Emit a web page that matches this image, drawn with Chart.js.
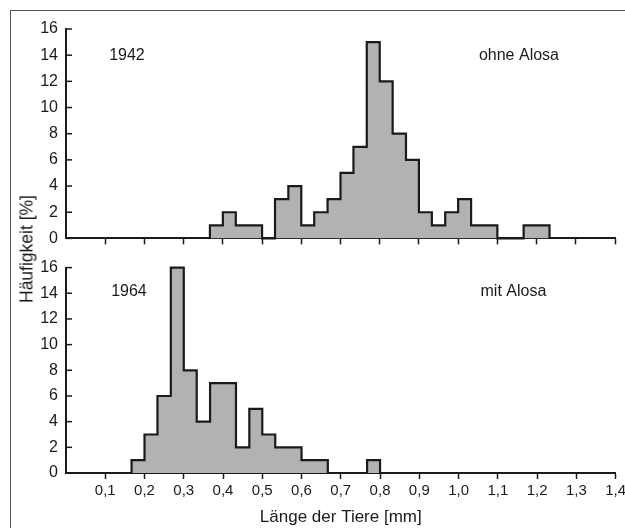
<!DOCTYPE html>
<html>
<head>
<meta charset="utf-8">
<script src="https://cdn.jsdelivr.net/npm/chart.js@4.4.1/dist/chart.umd.min.js"></script>
<style>
  body { margin: 0; background: #fff; }
  #wrap { position: relative; width: 625px; height: 528px; overflow: hidden;
          font-family: "Liberation Sans", Arial, sans-serif; color: #1a1a1a; }
  #frame { position: absolute; left: 10px; top: 10px; width: 700px; height: 600px;
           border-top: 1.5px solid #555; border-left: 1.5px solid #555; }
  #top { position: absolute; left: 0; top: 0; }
  #bottom { position: absolute; left: 0; top: 250px; }
  #ytitle { position: absolute; left: 27px; top: 249px; font-size: 17.5px; white-space: nowrap;
            transform: translate(-50%, -50%) rotate(-90deg); }
</style>
</head>
<body>
<div id="wrap">
  <div id="frame"></div>
  <canvas id="top" width="625" height="256"></canvas>
  <canvas id="bottom" width="629" height="278"></canvas>
  <div id="ytitle">Häufigkeit [%]</div>
</div>
<script>
// bin edges (mm) and frequency (%) per bin
const edges1942 = [0.367, 0.4, 0.433, 0.467, 0.5, 0.533, 0.567, 0.6, 0.633, 0.667, 0.7, 0.733, 0.767,
  0.8, 0.833, 0.867, 0.9, 0.933, 0.967, 1.0, 1.033, 1.067, 1.1, 1.133, 1.167, 1.2, 1.233];
const freq1942 = [1, 2, 1, 1, 0, 3, 4, 1, 2, 3, 5, 7, 15, 12, 8, 6, 2, 1, 2, 3, 1, 1, 0, 0, 1, 1];

const edges1964 = [0.167, 0.2, 0.233, 0.267, 0.3, 0.333, 0.367, 0.4, 0.433, 0.467, 0.5, 0.533,
  0.567, 0.6, 0.633, 0.667, 0.7, 0.733, 0.767, 0.8];
const freq1964 = [1, 3, 6, 16, 8, 4, 7, 7, 2, 5, 3, 2, 2, 1, 1, 0, 0, 0, 1];

const yTicks = [0, 2, 4, 6, 8, 10, 12, 14, 16];
const xTitle = 'Länge der Tiere [mm]';

const ink = '#1a1a1a';
const family = '"Liberation Sans", Arial, sans-serif';

// outline of the histogram as a stepped line
function steps(edges, freq) {
  const pts = [{ x: edges[0], y: 0 }];
  freq.forEach((f, i) => pts.push({ x: edges[i], y: f }));
  pts.push({ x: edges[edges.length - 1], y: 0 });
  return pts;
}

const panelDecor = {
  id: 'panelDecor',
  afterDraw(chart, args, opts) {
    const { ctx, scales: { x, y } } = chart;
    ctx.save();
    ctx.strokeStyle = ink;
    ctx.lineWidth = 1.5;
    yTicks.forEach(v => {
      const py = y.getPixelForValue(v);
      ctx.beginPath();
      ctx.moveTo(x.left, py);
      ctx.lineTo(x.left + 6, py);
      ctx.stroke();
    });
    ctx.fillStyle = ink;
    ctx.font = '16px ' + family;
    ctx.textAlign = 'left';
    ctx.textBaseline = 'middle';
    opts.notes.forEach(n => {
      ctx.fillText(n.text, x.getPixelForValue(n.x), y.getPixelForValue(n.y));
    });
    ctx.restore();
  }
};

function makePanel(id, edges, freq, notes, padTop, xHeight, showLabels) {
  return new Chart(document.getElementById(id), {
    type: 'line',
    data: {
      datasets: [{
        data: steps(edges, freq),
        stepped: true,
        fill: 'origin',
        backgroundColor: '#b2b2b2',
        borderColor: ink,
        borderWidth: 2.2,
        pointRadius: 0,
        clip: 4
      }]
    },
    options: {
      responsive: false,
      animation: false,
      layout: { padding: { top: padTop, right: 10, left: 0, bottom: 0 } },
      plugins: {
        legend: { display: false },
        tooltip: { enabled: false },
        panelDecor: { notes: notes }
      },
      scales: {
        x: {
          type: 'linear',
          min: 0,
          max: 1.4,
          afterFit: s => { s.height = xHeight; },
          ticks: {
            stepSize: 0.1,
            autoSkip: false,
            maxRotation: 0,
            padding: 3,
            color: ink,
            font: { family: family, size: 15 },
            callback: v => (showLabels && v > 0.01) ? v.toFixed(1).replace('.', ',') : ''
          },
          grid: {
            drawOnChartArea: false,
            drawTicks: true,
            tickLength: 6,
            tickWidth: 1.5,
            tickColor: c => (c.tick && Math.abs(c.tick.value) < 0.01) ? 'rgba(0,0,0,0)' : ink
          },
          border: { color: ink, width: 2 },
          title: {
            display: showLabels,
            text: xTitle,
            color: ink,
            font: { family: family, size: 17 },
            padding: { top: 0, bottom: 0 }
          }
        },
        y: {
          min: 0,
          max: 16,
          afterFit: s => { s.width = 66; },
          afterBuildTicks: s => { s.ticks = yTicks.map(v => ({ value: v })); },
          ticks: { padding: 8, color: ink, font: { family: family, size: 16 } },
          grid: { drawOnChartArea: false, drawTicks: false },
          border: { color: ink, width: 2 }
        }
      }
    },
    plugins: [panelDecor]
  });
}

makePanel('top', edges1942, freq1942,
  [{ text: '1942', x: 0.11, y: 14 }, { text: 'ohne Alosa', x: 1.053, y: 14 }],
  29, 6, false);

makePanel('bottom', edges1964, freq1964,
  [{ text: '1964', x: 0.115, y: 14.1 }, { text: 'mit Alosa', x: 1.056, y: 14.1 }],
  15, 55, true);
</script>
</body>
</html>
